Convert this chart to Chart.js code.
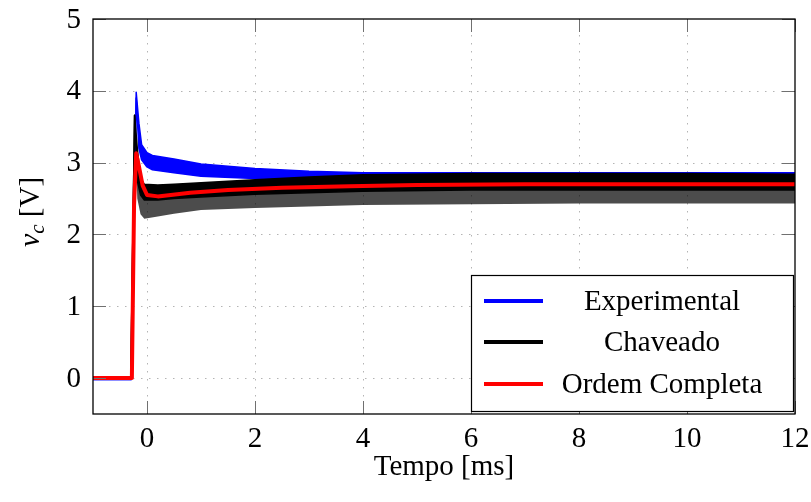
<!DOCTYPE html>
<html>
<head>
<meta charset="utf-8">
<script src="https://cdn.jsdelivr.net/npm/chart.js@4.4.1/dist/chart.umd.min.js"></script>
<style>
  html, body { margin: 0; padding: 0; background: #fff; }
  #wrap { width: 811px; height: 502px; }
</style>
</head>
<body>
<div id="wrap"><canvas id="vc" width="811" height="502"></canvas></div>
<script>
// ticks
const xTicks = [0, 2, 4, 6, 8, 10, 12];
const yTicks = [0, 1, 2, 3, 4, 5];

// Experimental (blue band: upper / lower envelope of the ripple)
const expT  = [-1, -0.29, -0.2, -0.15, -0.1, 0, 0.1, 0.5, 1, 2, 3, 4, 6, 8, 10, 12];
const expHi = [-0.02, -0.02, 3.98, 3.55, 3.25, 3.14, 3.1, 3.05, 2.98, 2.92, 2.88, 2.86, 2.86, 2.86, 2.86, 2.86];
const expLo = [-0.02, -0.02, 3.9, 3.2, 3.04, 2.94, 2.9, 2.86, 2.81, 2.78, 2.75, 2.72, 2.65, 2.65, 2.65, 2.65];

// Chaveado (black band: upper edge, solid lower edge, tooth tips)
const chT   = [-1, -0.3, -0.23, -0.18, -0.12, -0.05, 0.2, 0.5, 1, 2, 3, 4, 6, 8, 10, 12];
const chHi  = [0, 0, 3.66, 3.2, 2.78, 2.7, 2.69, 2.7, 2.72, 2.76, 2.8, 2.83, 2.85, 2.85, 2.85, 2.84];
const chLo  = [0, 0, 3.66, 2.75, 2.55, 2.48, 2.48, 2.5, 2.52, 2.56, 2.58, 2.6, 2.62, 2.62, 2.62, 2.62];
const chTip = [0, 0, 3.66, 2.5, 2.28, 2.22, 2.25, 2.29, 2.34, 2.37, 2.39, 2.41, 2.42, 2.43, 2.43, 2.43];

// Ordem Completa (red)
const ocT = [-1, -0.28, -0.24, -0.2, -0.15, -0.08, 0, 0.2, 0.8, 1.5, 2.5, 3.75, 5, 7, 12];
const ocV = [0, 0, 2.4, 3.13, 2.95, 2.68, 2.55, 2.53, 2.58, 2.62, 2.65, 2.67, 2.69, 2.7, 2.7];

const legendLabels = ['Experimental', 'Chaveado', 'Ordem Completa'];
const legendColors = ['#0000ff', '#000000', '#ff0000'];

const pts = (t, v) => t.map((x, i) => ({ x: x, y: v[i] }));
const serif = '"Liberation Serif", "DejaVu Serif", serif';

function line(data, color, width, extra) {
  return Object.assign({
    data: data,
    borderColor: color,
    borderWidth: width,
    pointRadius: 0,
    tension: 0,
    fill: false,
    borderJoinStyle: 'round'
  }, extra || {});
}

// dotted grid below the data
const gridPlugin = {
  id: 'gridDots',
  beforeDatasetsDraw(chart) {
    const { ctx, chartArea: a, scales: { x, y } } = chart;
    ctx.save();
    ctx.strokeStyle = '#b4b4b4';
    ctx.lineWidth = 1;
    ctx.setLineDash([1.5, 6.5]);
    xTicks.slice(0, -1).forEach(v => {
      const px = Math.round(x.getPixelForValue(v)) + 0.5;
      ctx.beginPath(); ctx.moveTo(px, a.top); ctx.lineTo(px, a.bottom); ctx.stroke();
    });
    yTicks.slice(0, -1).forEach(v => {
      const py = Math.round(y.getPixelForValue(v)) + 0.5;
      ctx.beginPath(); ctx.moveTo(a.left, py); ctx.lineTo(a.right, py); ctx.stroke();
    });
    ctx.restore();
  }
};

// frame, inward ticks, tick labels, axis titles and legend
const framePlugin = {
  id: 'frame',
  afterDatasetsDraw(chart) {
    const { ctx, chartArea: a, scales: { x, y } } = chart;
    ctx.save();
    ctx.strokeStyle = '#707070';
    ctx.lineWidth = 1;
    const tl = 13;
    xTicks.forEach(v => {
      const px = Math.round(x.getPixelForValue(v)) + 0.5;
      ctx.beginPath();
      ctx.moveTo(px, a.bottom); ctx.lineTo(px, a.bottom - tl);
      ctx.moveTo(px, a.top); ctx.lineTo(px, a.top + tl);
      ctx.stroke();
    });
    yTicks.forEach(v => {
      const py = Math.round(y.getPixelForValue(v)) + 0.5;
      ctx.beginPath();
      ctx.moveTo(a.left, py); ctx.lineTo(a.left + tl, py);
      ctx.moveTo(a.right, py); ctx.lineTo(a.right - tl, py);
      ctx.stroke();
    });
    ctx.strokeStyle = '#000';
    ctx.lineWidth = 1.3;
    ctx.strokeRect(a.left, a.top, a.right - a.left, a.bottom - a.top);

    // tick labels
    ctx.fillStyle = '#000';
    ctx.font = '29px ' + serif;
    ctx.textAlign = 'center';
    ctx.textBaseline = 'alphabetic';
    xTicks.forEach(v => ctx.fillText(String(v), x.getPixelForValue(v), a.bottom + 33));
    ctx.textAlign = 'right';
    ctx.textBaseline = 'middle';
    yTicks.forEach(v => ctx.fillText(String(v), a.left - 12, y.getPixelForValue(v) + 1));

    // legend
    const lx = 471, ly = 275, lw = 322, lh = 136;
    ctx.fillStyle = '#fff';
    ctx.fillRect(lx, ly, lw, lh);
    ctx.lineWidth = 1.2;
    ctx.strokeRect(lx + 0.5, ly + 0.5, lw, lh);
    const rows = [301, 342, 384];
    ctx.textAlign = 'center';
    legendLabels.forEach((lab, i) => {
      ctx.strokeStyle = legendColors[i];
      ctx.lineWidth = 4;
      ctx.beginPath(); ctx.moveTo(484, rows[i]); ctx.lineTo(543, rows[i]); ctx.stroke();
      ctx.fillStyle = '#000';
      ctx.fillText(lab, 662, rows[i] + 1);
    });

    // x title
    ctx.textBaseline = 'alphabetic';
    ctx.fillText('Tempo [ms]', 444, 475);

    // y title: v_c [V], rotated
    ctx.translate(39, 212);
    ctx.rotate(-Math.PI / 2);
    const f1 = 'italic 30px ' + serif, f2 = 'italic 21px ' + serif, f3 = '29px ' + serif;
    ctx.font = f1; const w1 = ctx.measureText('v').width;
    ctx.font = f2; const w2 = ctx.measureText('c').width;
    ctx.font = f3; const w3 = ctx.measureText(' [V]').width;
    let cx = -(w1 + w2 + w3) / 2;
    ctx.textAlign = 'left';
    ctx.font = f1; ctx.fillText('v', cx, 0); cx += w1;
    ctx.font = f2; ctx.fillText('c', cx, 5); cx += w2;
    ctx.font = f3; ctx.fillText(' [V]', cx, 0);
    ctx.restore();
  }
};

new Chart(document.getElementById('vc').getContext('2d'), {
  type: 'line',
  data: {
    datasets: [
      line(pts(expT, expHi), '#0000ff', 1.5, { order: 2 }),
      line(pts(expT, expLo), '#0000ff', 1.5, { order: 2, fill: '-1', backgroundColor: '#0000ff' }),
      line(pts(chT, chHi), '#000', 1.5, { order: 1 }),
      line(pts(chT, chLo), '#000', 1.5, { order: 1, fill: '-1', backgroundColor: '#000' }),
      line(pts(chT, chTip), 'rgba(0,0,0,0)', 0, { order: 1, fill: '-1', backgroundColor: 'rgba(0,0,0,0.7)' }),
      line(pts(ocT, ocV), '#ff0000', 4, { order: 0 })
    ]
  },
  options: {
    responsive: false,
    devicePixelRatio: 1,
    animation: false,
    layout: { padding: { left: 0, top: 19, right: 16, bottom: 0 } },
    plugins: { legend: { display: false }, tooltip: { enabled: false } },
    scales: {
      x: {
        type: 'linear',
        min: -1, max: 12,
        afterFit: s => { s.height = 88; },
        afterBuildTicks: s => { s.ticks = xTicks.map(v => ({ value: v })); },
        grid: { display: false },
        border: { display: false },
        ticks: { display: false }
      },
      y: {
        type: 'linear',
        min: -0.5, max: 5,
        afterFit: s => { s.width = 93; },
        afterBuildTicks: s => { s.ticks = yTicks.map(v => ({ value: v })); },
        grid: { display: false },
        border: { display: false },
        ticks: { display: false }
      }
    }
  },
  plugins: [gridPlugin, framePlugin]
});
</script>
</body>
</html>
